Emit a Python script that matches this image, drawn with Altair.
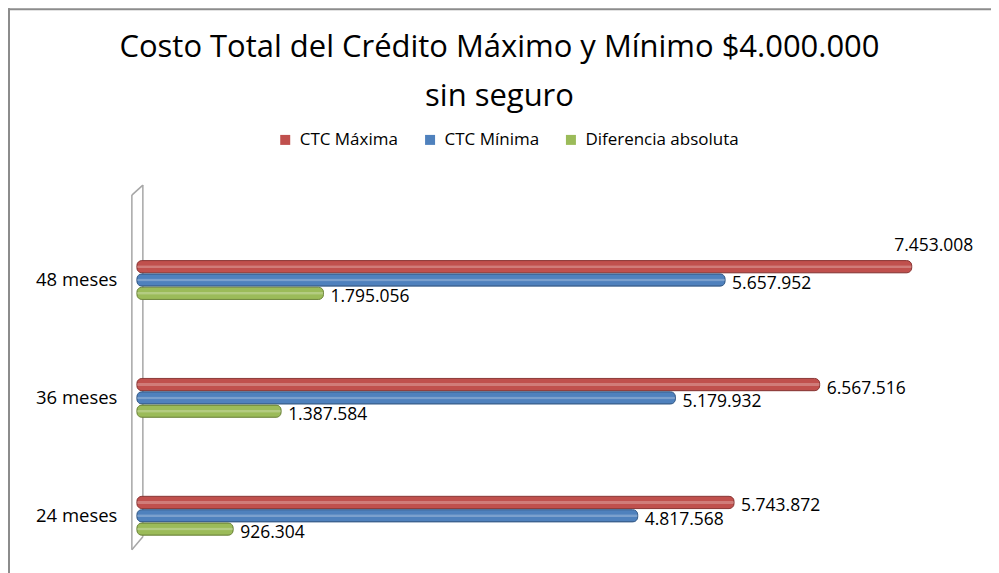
import altair as alt
import pandas as pd

categories = ["48 meses", "36 meses", "24 meses"]
series = ["CTC Máxima", "CTC Mínima", "Diferencia absoluta"]
ctc_maxima = [7453008, 6567516, 5743872]
ctc_minima = [5657952, 5179932, 4817568]
diferencia = [1795056, 1387584, 926304]
colors = ["#C0504D", "#4F81BD", "#9BBB59"]
strokes = ["#8C3836", "#385D8A", "#71893F"]
title_lines = ["Costo Total del Crédito Máximo y Mínimo $4.000.000", "sin seguro"]

rows = []
for vals, s in zip([ctc_maxima, ctc_minima, diferencia], series):
    for c, v in zip(categories, vals):
        rows.append({"plazo": c, "serie": s, "valor": v,
                     "etiqueta": f"{v:,}".replace(",", ".")})
df = pd.DataFrame(rows)

FONT = "Open Sans"
W, H = 843, 354

y_enc = alt.Y("plazo:N", sort=categories, title=None,
              scale=alt.Scale(paddingInner=0.67, paddingOuter=0.335),
              axis=alt.Axis(domain=False, ticks=False, labelPadding=20,
                            labelFontSize=18.5, labelFont=FONT, labelColor="#000",
                            grid=False))
yoff = alt.YOffset("serie:N", sort=series, scale=alt.Scale(paddingInner=0.08, paddingOuter=0))
x_enc = alt.X("valor:Q", scale=alt.Scale(domain=[0, 8100000], nice=False),
              axis=None)

base = alt.Chart(df)

bars = base.mark_bar(cornerRadius=5, strokeWidth=1).encode(
    x=x_enc, y=y_enc, yOffset=yoff,
    color=alt.Color("serie:N", sort=series,
                    scale=alt.Scale(domain=series, range=colors),
                    legend=alt.Legend(title=None, orient="none", direction="horizontal",
                                      legendX=140, legendY=-90, symbolType="square",
                                      symbolSize=100, symbolStrokeWidth=0,
                                      labelFont=FONT, labelFontSize=17, labelColor="#000",
                                      columnPadding=23, labelOffset=6)),
    stroke=alt.Stroke("serie:N", sort=series,
                      scale=alt.Scale(domain=series, range=strokes), legend=None),
)

highlight = base.mark_bar(cornerRadius=2, height=3, color="white", opacity=0.25).encode(
    x=x_enc, y=y_enc, yOffset=yoff)

label_right = base.transform_filter("datum.valor < 7000000").mark_text(
    align="left", baseline="middle", dx=7, dy=4, font=FONT, fontSize=17.5, color="#000"
).encode(x=x_enc, y=y_enc, yOffset=yoff, text="etiqueta:N")

label_top = base.transform_filter("datum.valor >= 7000000").mark_text(
    align="center", baseline="middle", dx=22, dy=-21, font=FONT, fontSize=17.5, color="#000"
).encode(x=x_enc, y=y_enc, yOffset=yoff, text="etiqueta:N")

one = pd.DataFrame({"k": [0]})

title1 = alt.Chart(one).mark_text(
    text=title_lines[0], font=FONT, fontSize=31, color="#000",
    align="center", baseline="middle").encode(x=alt.value(363), y=alt.value(-173))
title2 = alt.Chart(one).mark_text(
    text=title_lines[1], font=FONT, fontSize=31, color="#000",
    align="center", baseline="middle").encode(x=alt.value(363), y=alt.value(-124))

wall_color = "#A6A6A6"
wall_left = alt.Chart(one).mark_rule(color=wall_color, strokeWidth=1.5).encode(
    x=alt.value(-5), y=alt.value(-26), y2=alt.value(329))
wall_right = alt.Chart(one).mark_rule(color=wall_color, strokeWidth=1.5).encode(
    x=alt.value(6), y=alt.value(-36), y2=alt.value(316))
wall_top = alt.Chart(one).mark_rule(color=wall_color, strokeWidth=1.5).encode(
    x=alt.value(-5), x2=alt.value(6), y=alt.value(-26), y2=alt.value(-36))
wall_bottom = alt.Chart(one).mark_rule(color=wall_color, strokeWidth=1.5).encode(
    x=alt.value(-5), x2=alt.value(6), y=alt.value(329), y2=alt.value(316))

frame_color = "#8C8C8C"
frame_top = alt.Chart(one).mark_rule(color=frame_color, strokeWidth=2).encode(
    x=alt.value(-129), x2=alt.value(W + 12), y=alt.value(-212))
frame_left = alt.Chart(one).mark_rule(color=frame_color, strokeWidth=2).encode(
    x=alt.value(-128), y=alt.value(-213), y2=alt.value(H + 10))

chart = alt.layer(
    frame_top, frame_left, title1, title2, wall_left, wall_right, wall_top, wall_bottom,
    bars, highlight, label_right, label_top
).properties(
    width=W, height=H,
    autosize=alt.AutoSizeParams(type="none"),
    padding={"left": 129, "top": 213, "right": 12, "bottom": 0},
).configure(background="white", view=alt.ViewConfig(stroke=None))

chart.save("out.html", embed_options={"renderer": "svg", "actions": False})
